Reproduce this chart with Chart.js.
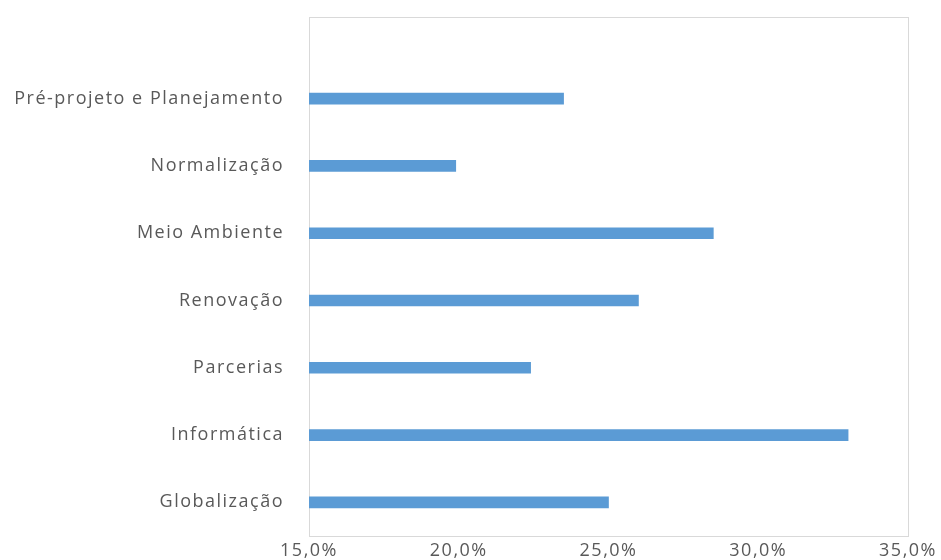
<!DOCTYPE html>
<html><head><meta charset="utf-8">
<script src="https://cdn.jsdelivr.net/npm/chart.js@4/dist/chart.umd.min.js"></script>
<style>html,body{margin:0;padding:0;background:#fff}#wrap{width:941px;height:560px}</style>
</head><body><div id="wrap"><canvas id="c" width="941" height="560"></canvas></div>
<script>
const categories = ["Pré-projeto e Planejamento","Normalização","Meio Ambiente","Renovação","Parcerias","Informática","Globalização"];
const values = [23.5, 19.9, 28.5, 26.0, 22.4, 33.0, 25.0];
const xTicks = [15, 20, 25, 30, 35];

const spacingPlugin = {
  id: 'spacing',
  beforeUpdate(chart) { chart.ctx.letterSpacing = '1.5px'; },
  beforeDraw(chart) { chart.ctx.letterSpacing = '1.5px'; }
};

const boxPlugin = {
  id: 'box',
  beforeDatasetsDraw(chart) {
    const a = chart.chartArea, ctx = chart.ctx;
    const slot = (a.bottom - a.top) / categories.length;
    const top = a.top - slot * 0.72;
    ctx.save();
    ctx.strokeStyle = '#D9D9D9';
    ctx.lineWidth = 1;
    ctx.strokeRect(Math.round(a.left) + 0.5, Math.round(top) + 0.5, Math.round(a.right - a.left), Math.round(a.bottom - top));
    ctx.restore();
  }
};

new Chart(document.getElementById('c'), {
  type: 'bar',
  data: { labels: categories, datasets: [{ data: values, backgroundColor: '#5B9BD5', barThickness: 11 }] },
  options: {
    indexAxis: 'y', responsive: false, animation: false,
    layout: { padding: { top: 65, right: 33, left: 0, bottom: 0 } },
    plugins: { legend: { display: false }, tooltip: { enabled: false } },
    scales: {
      x: {
        min: 15, max: 35,
        afterBuildTicks(s) { s.ticks = xTicks.map(v => ({ value: v })); },
        afterFit(s) { s.height = 24; s.paddingLeft = 0; s.paddingRight = 0; },
        grid: { display: false, drawTicks: false },
        border: { display: false },
        ticks: { padding: 4, color: '#595959', font: { family: 'Open Sans', size: 18 },
          callback: v => v.toFixed(1).replace('.', ',') + '%' }
      },
      y: {
        afterFit(s) { s.width = 309; s.paddingTop = 0; s.paddingBottom = 0; },
        grid: { display: false, drawTicks: false },
        border: { display: false },
        ticks: { padding: 25, color: '#595959', font: { family: 'Open Sans', size: 18 } }
      }
    }
  },
  plugins: [spacingPlugin, boxPlugin]
});
</script></body></html>
